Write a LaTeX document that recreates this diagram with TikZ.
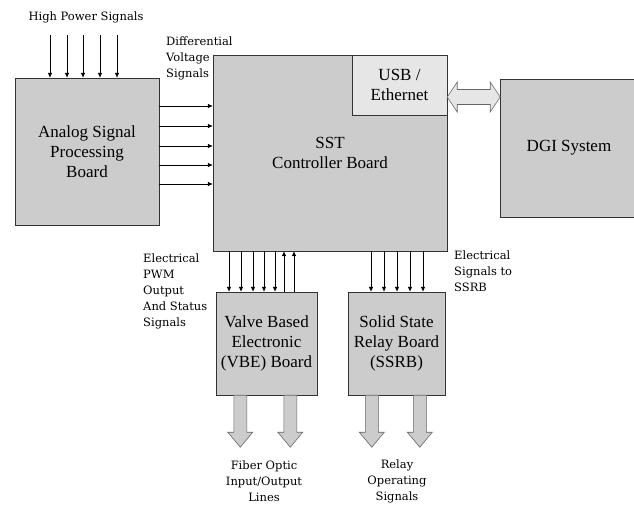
\documentclass[tikz,border=0pt]{standalone}
\usepackage{fontspec}
\setmainfont{Liberation Serif}
\newfontfamily\lblfont{DejaVu Serif}
\usepackage{xcolor}
\usetikzlibrary{arrows.meta,positioning}
\definecolor{boardgray}{HTML}{CCCCCC}
\definecolor{portgray}{HTML}{E6E6E6}
\newcommand{\fatdown}[1]{\draw[fat] (#1) ++(-6.5,0) -- ++(0,37) -- ++(-6,0) -- ++(12.5,15) -- ++(12.5,-15) -- ++(-6,0) -- ++(0,-37) -- cycle;}

\begin{document}
\begin{tikzpicture}[
  x=1pt, y=-1pt,
  board/.style={draw=black!80, fill=boardgray, align=center, inner sep=0pt, font=\fontsize{17}{20}\selectfont},
  lbl/.style={inner sep=0pt, font=\lblfont\fontsize{11.5}{16}\selectfont},
  sig/.style={-{Latex[length=5pt,width=4.5pt]}, line width=0.7pt},
  fat/.style={draw=black!60, fill=boardgray, line width=0.6pt},
  link/.style={draw=black!60, fill=portgray, line width=0.6pt}
]
\useasboundingbox (0,0) rectangle (634,505);
\node[board, minimum width=144pt, minimum height=147pt] (asp) at (87,151.5) {Analog Signal\\Processing\\Board};
\node[board, minimum width=234pt, minimum height=196pt] (sst) at (330,153) {SST\\Controller Board};
\node[board, fill=portgray, minimum width=95pt, minimum height=60pt, anchor=north east] (usb) at (sst.north east) {USB /\\Ethernet};
\node[board, minimum width=138pt, minimum height=138pt] (dgi) at (569,148) {DGI System};
\node[board, minimum width=101pt, minimum height=103pt] (vbe) at (266.5,343.5) {Valve Based\\Electronic\\(VBE) Board};
\node[board, minimum width=97pt, minimum height=103pt] (ssrb) at (396.5,343.5) {Solid State\\Relay Board\\(SSRB)};
\node[lbl] (hp) at (86,17) {High Power Signals};
\node[lbl, align=left, anchor=west] (dvs) at (166,58) {Differential\\Voltage\\Signals};
\node[lbl, align=left, anchor=west] (pwm) at (143,291) {Electrical\\PWM\\Output\\And Status\\Signals};
\node[lbl, align=left, anchor=west] (tossrb) at (454,271) {Electrical\\Signals to\\SSRB};
\node[lbl, align=center] (fiber) at (264,481) {Fiber Optic\\Input/Output\\Lines};
\node[lbl, align=center] (relay) at (397,481) {Relay\\Operating\\Signals};
\coordinate (hptop) at (0,35);
\foreach \x in {50,67,83,100,117}
  \draw[sig] (hptop -| \x,0) -- (\x,0 |- asp.north);
\foreach \y in {106,126,146,165,184}
  \draw[sig] (asp.east |- 0,\y) -- (sst.west |- 0,\y);
\foreach \x in {229,241,253,264,275}
  \draw[sig] (\x,0 |- sst.south) -- (\x,0 |- vbe.north);
\foreach \x in {284,294}
  \draw[sig] (\x,0 |- vbe.north) -- (\x,0 |- sst.south);
\foreach \x in {371,384,397,410,423}
  \draw[sig] (\x,0 |- sst.south) -- (\x,0 |- ssrb.north);
\draw[link] (usb.east |- 0,97) -- ++(10,-15) -- ++(0,7.5) -- ++(33,0) -- ++(0,-7.5) -- ++(10,15) -- ++(-10,15) -- ++(0,-7.5) -- ++(-33,0) -- ++(0,7.5) -- cycle;
\fatdown{[xshift=24.5pt]vbe.south west}
\fatdown{[xshift=74.5pt]vbe.south west}
\fatdown{[xshift=24pt]ssrb.south west}
\fatdown{[xshift=72pt]ssrb.south west}
\end{tikzpicture}
\end{document}
